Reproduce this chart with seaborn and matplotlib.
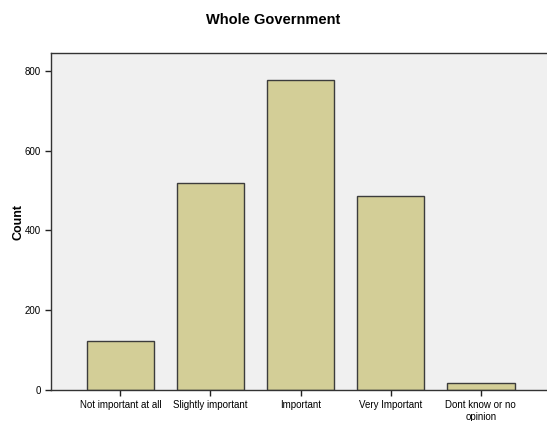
import numpy as np
import pandas as pd
import matplotlib
matplotlib.use("Agg")
import matplotlib.pyplot as plt
import seaborn as sns

# data
categories = ["Not important at all", "Slightly important", "Important",
              "Very Important", "Dont know or no\nopinion"]
counts = [123, 519, 777, 486, 18]

df = pd.DataFrame({"answer": categories, "count": counts})

sns.set_style("white")
plt.rcParams['font.family'] = ['Arial', 'Liberation Sans', 'DejaVu Sans']
plt.rcParams['text.color'] = 'black'
plt.rcParams['axes.labelcolor'] = 'black'
plt.rcParams['xtick.color'] = 'black'
plt.rcParams['ytick.color'] = 'black'

fig = plt.figure(figsize=(5.47, 4.21), dpi=100)
ax = fig.add_axes([0.0932, 0.0736, 0.906, 0.8005])
ax.set_facecolor("#f0f0f0")

sns.barplot(data=df, x="answer", y="count", color="#d3ce97", width=0.75,
            edgecolor="#3c3c3c", linewidth=1.0, saturation=1, ax=ax)

ax.set_xlim(-0.77, 4.73)
ax.set_ylim(0, 845)
ax.set_yticks([0, 200, 400, 600, 800])
ax.set_xlabel("")
ax.set_ylabel("Count", fontsize=9, fontweight="bold", labelpad=0)
ax.tick_params(axis="both", labelsize=7, length=4, width=1, color="#222222",
               direction="out", bottom=True, left=True)

for side in ["left", "bottom", "top"]:
    ax.spines[side].set_color("#333333")
    ax.spines[side].set_linewidth(1)
ax.spines["right"].set_visible(False)

fig.suptitle("Whole Government", fontsize=10.5, fontweight="bold", y=0.97)

fig.savefig("out.png", dpi=100)
